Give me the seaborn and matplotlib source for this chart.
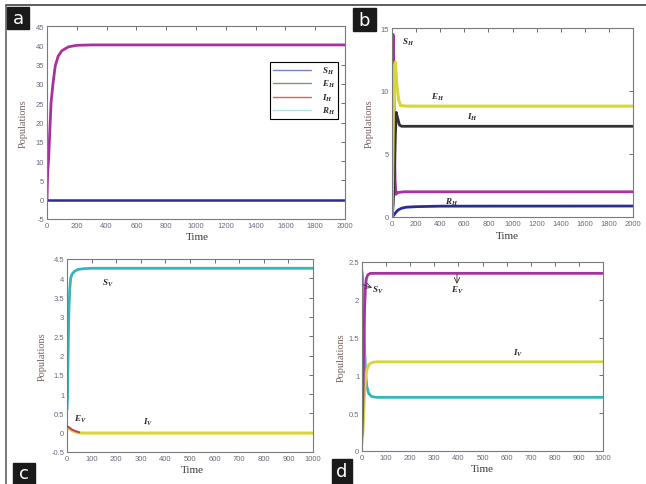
import numpy as np
import pandas as pd
import matplotlib
matplotlib.use("Agg")
import matplotlib.pyplot as plt
from matplotlib.lines import Line2D
from matplotlib.patches import Rectangle
from matplotlib.ticker import MultipleLocator, FuncFormatter
import seaborn as sns

sns.set_style("white")
plt.rcParams['font.family'] = ['Liberation Serif', 'DejaVu Serif']
plt.rcParams['mathtext.fontset'] = 'custom'
plt.rcParams['mathtext.it'] = 'Liberation Serif:bold:italic'
plt.rcParams['mathtext.rm'] = 'Liberation Serif:bold'
plt.rcParams['mathtext.bf'] = 'Liberation Serif:bold'

# ---------------- data ----------------
# panel a (human, 0..2000)
ta_mag = [0, 3, 6, 11, 18, 27, 40, 55, 75, 100, 144, 200, 300, 2000]
ya_mag = [0, 5, 8, 10.5, 17, 25, 30, 34.6, 37.2, 38.6, 39.6, 40, 40.1, 40.1]
ta_blue = [0, 2000]
ya_blue = [0, 0]
legend_a = [r'$S_H$', r'$E_H$', r'$I_H$', r'$R_H$']

# panel b (human, 0..2000)
tb_mag = [0, 3, 8, 12, 18, 25, 32, 50, 100, 2000]
yb_mag = [0, 9, 14.5, 14.2, 8, 3, 1.8, 1.95, 2.0, 2.0]
tb_yel = [0, 5, 12, 20, 28, 40, 55, 70, 120, 2000]
yb_yel = [0, 3, 9, 12.0, 12.3, 10.5, 9.3, 8.85, 8.8, 8.8]
tb_blk = [0, 10, 20, 28, 35, 48, 62, 80, 150, 2000]
yb_blk = [0, 1, 3.5, 6.5, 8.3, 7.8, 7.3, 7.2, 7.2, 7.2]
tb_blu = [0, 15, 30, 50, 80, 120, 200, 400, 2000]
yb_blu = [0, 0.15, 0.35, 0.55, 0.7, 0.78, 0.82, 0.86, 0.87]

# panel c (vector, 0..1000)
tc_cyan = [0, 2, 4, 6, 8, 11, 15, 20, 30, 45, 70, 100, 1000]
yc_cyan = [0.6, 0.9, 1.8, 2.6, 3.2, 3.7, 4.0, 4.1, 4.18, 4.23, 4.25, 4.26, 4.26]
tc_red = [0, 10, 20, 35, 50]
yc_red = [0.17, 0.13, 0.08, 0.04, 0.01]
tc_yel = [0, 10, 20, 30, 45, 60, 1000]
yc_yel = [0.13, 0.1, 0.06, 0.03, 0.0, -0.01, -0.01]

# panel d (vector, 0..1000)
td_mag = [0, 2, 5, 8, 11, 14, 18, 24, 35, 1000]
yd_mag = [0.2, 0.4, 0.9, 1.5, 1.9, 2.15, 2.28, 2.33, 2.35, 2.35]
td_cyan = [0, 3, 6, 9, 12, 16, 20, 28, 40, 60, 1000]
yd_cyan = [2.38, 2.3, 2.0, 1.6, 1.25, 1.0, 0.85, 0.76, 0.72, 0.71, 0.71]
td_yel = [0, 3, 6, 10, 15, 20, 28, 40, 60, 1000]
yd_yel = [0.1, 0.2, 0.4, 0.7, 0.95, 1.07, 1.14, 1.17, 1.18, 1.18]

# ---------------- colours ----------------
MAG = '#a8309f'
BLUE = '#2b2b9c'
YEL = '#d6d63c'
BLK = '#333333'
CYAN = '#35b5bd'
RED = '#c03a5a'

W, H = 646, 485
fig = plt.figure(figsize=(W / 100, H / 100), dpi=100)


def px_axes(l, r, t, b):
    return fig.add_axes([l / W, (H - b) / H, (r - l) / W, (b - t) / H])


def style(ax, xmax, xstep, ymin, ymax, ystep, ylab_x, xlab_x, xlab_y):
    ax.set_xlim(0, xmax)
    ax.set_ylim(ymin, ymax)
    ax.xaxis.set_major_locator(MultipleLocator(xstep))
    ax.yaxis.set_major_locator(MultipleLocator(ystep))
    fmt = FuncFormatter(lambda v, p: ('%g' % round(v, 3)))
    ax.xaxis.set_major_formatter(fmt)
    ax.yaxis.set_major_formatter(fmt)
    ax.tick_params(direction='in', length=3, width=0.6, top=True, right=True,
                   labelsize=5.5, labelcolor='#6a6a7e', color='#555555', pad=2)
    for lab in ax.get_xticklabels() + ax.get_yticklabels():
        lab.set_family(['Liberation Sans', 'DejaVu Sans'])
    for s in ax.spines.values():
        s.set_color('#7a7a7a')
        s.set_linewidth(0.8)
        s.set_visible(True)
    ax.set_xlabel('Time', fontsize=8, color='#3a3a3a')
    ax.set_ylabel('Populations', fontsize=7.5, color='#7a6262')
    ax.yaxis.set_label_coords(ylab_x, 0.5)
    ax.xaxis.set_label_coords(xlab_x, xlab_y)
    ax.set_facecolor('white')


def line(ax, t, y, c, lw):
    df = pd.DataFrame({'t': t, 'y': y})
    sns.lineplot(data=df, x='t', y='y', color=c, lw=lw, ax=ax,
                 estimator=None, sort=False)


# ---- panel a ----
axa = px_axes(47, 345, 27, 220)
line(axa, ta_mag, ya_mag, MAG, 2.0)
line(axa, ta_blue, ya_blue, BLUE, 1.8)
style(axa, 2000, 200, -5, 45, 5, -0.064, 0.503, -0.067)
handles = [Line2D([], [], color=c, lw=1.0) for c in ['#7f7fd0', '#6ea06e', '#d06464', '#b4e2e4']]
leg = axa.legend(handles, legend_a, loc='upper left', bbox_to_anchor=(0.732, 0.839),
                 fancybox=False, edgecolor='black', fontsize=6.5, handlelength=4.2,
                 labelspacing=0.25, borderpad=0.35, handletextpad=1.2, framealpha=1)
leg.get_frame().set_linewidth(0.8)

# ---- panel b ----
axb = px_axes(392, 633, 29, 218)
line(axb, tb_blu, yb_blu, BLUE, 2.0)
line(axb, tb_mag, yb_mag, MAG, 2.0)
line(axb, tb_blk, yb_blk, BLK, 2.0)
line(axb, tb_yel, yb_yel, YEL, 2.2)
style(axb, 2000, 200, 0, 15, 5, -0.075, 0.48, -0.074)
axb.text(133, 13.97, r'$S_H$', fontsize=6.5, ha='center', va='center')
axb.text(382, 9.6, r'$E_H$', fontsize=6.5, ha='center', va='center')
axb.text(664, 8.0, r'$I_H$', fontsize=6.5, ha='center', va='center')
axb.text(498, 1.27, r'$R_H$', fontsize=6.5, ha='center', va='center')

# ---- panel c ----
axc = px_axes(67, 313, 260, 453)
line(axc, tc_cyan, yc_cyan, CYAN, 2.0)
line(axc, tc_yel, yc_yel, YEL, 2.2)
line(axc, tc_red, yc_red, RED, 1.4)
style(axc, 1000, 100, -0.5, 4.5, 0.5, -0.081, 0.51, -0.067)
axc.annotate(r'$E_V$', xy=(2, 0.16), xytext=(53, 0.36), fontsize=6.5,
             ha='center', va='center',
             arrowprops=dict(arrowstyle='-', color='#7a2a5a', lw=0.6))
axc.text(329, 0.28, r'$I_V$', fontsize=6.5, ha='center', va='center')
axc.text(167, 3.9, r'$S_V$', fontsize=6.5, ha='center', va='center')

# ---- panel d ----
axd = px_axes(362, 603, 263, 452)
line(axd, td_cyan, yd_cyan, CYAN, 2.0)
line(axd, td_yel, yd_yel, YEL, 2.0)
line(axd, td_mag, yd_mag, MAG, 2.0)
style(axd, 1000, 100, 0, 2.5, 0.5, -0.066, 0.50, -0.069)
axd.text(66, 2.14, r'$S_V$', fontsize=6.5, ha='center', va='center')
axd.annotate('', xy=(42, 2.16), xytext=(4, 2.2),
             arrowprops=dict(arrowstyle='->', color='#333333', lw=0.6,
                             shrinkA=0, shrinkB=0))
axd.text(394, 2.14, r'$E_V$', fontsize=6.5, ha='center', va='center')
axd.annotate('', xy=(394, 2.21), xytext=(394, 2.34),
             arrowprops=dict(arrowstyle='->', color='#333333', lw=0.6,
                             shrinkA=0, shrinkB=0))
axd.text(647, 1.31, r'$I_V$', fontsize=6.5, ha='center', va='center')

# ---- frame and panel letters ----
fig.add_artist(Line2D([6 / W, 1.0], [1 - 6 / H, 1 - 6 / H], color='#333333', lw=1.1,
                      transform=fig.transFigure))
fig.add_artist(Line2D([6 / W, 6 / W], [0, 1 - 6 / H], color='#555555', lw=1.1,
                      transform=fig.transFigure))

for lab, (x0, x1, y0, y1) in zip(['a', 'b', 'c', 'd'],
                                 [(7, 29, 8, 30), (353, 376, 9, 32),
                                  (13, 35, 464, 485), (332, 352, 460, 485)]):
    fig.add_artist(Rectangle((x0 / W, (H - y1) / H), (x1 - x0) / W, (y1 - y0) / H,
                             transform=fig.transFigure, color='#1a1a1a', zorder=5))
    fig.text((x0 + x1) / 2 / W, (H - (y0 + y1) / 2) / H, lab, color='white',
             fontsize=13, ha='center', va='center', family='DejaVu Sans', zorder=6)

fig.savefig('out.png', dpi=100)
